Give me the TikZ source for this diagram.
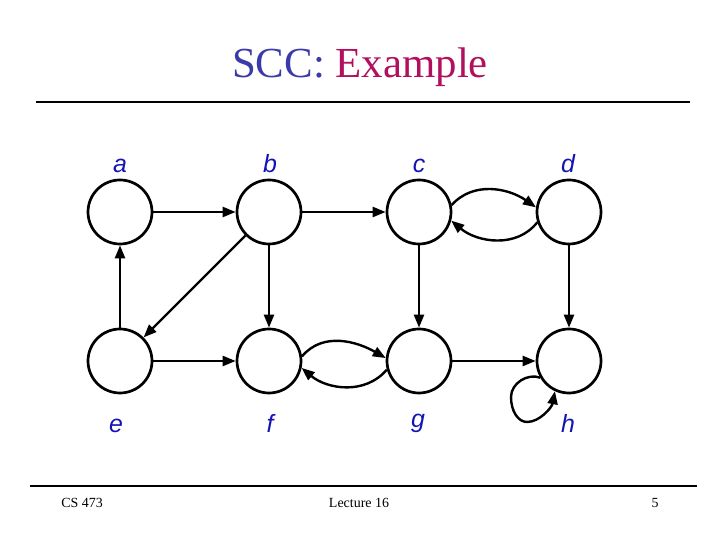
\documentclass[tikz,border=0pt]{standalone}
\usepackage{fontspec}
\setmainfont{Liberation Serif}
\newfontfamily\lblfont{Liberation Sans}
\usetikzlibrary{arrows.meta}
\definecolor{titleblue}{HTML}{3A3AAA}
\definecolor{titlemag}{HTML}{B0105E}
\definecolor{lblblue}{HTML}{1414B4}
\begin{document}
\begin{tikzpicture}[x=1bp,y=1bp,
  vtx/.style={circle,draw,line width=2.7bp,minimum size=64bp,inner sep=0pt},
  edge/.style={line width=2.4bp,-{Triangle[length=13bp,width=10bp]}},
  lbl/.style={anchor=base,text=lblblue,font=\lblfont\itshape\fontsize{25}{25}\selectfont,inner sep=0pt},
  rule/.style={line width=1.2bp},
  foot/.style={anchor=base,font=\fontsize{14}{14}\selectfont,inner sep=0pt}]
\useasboundingbox (0,0) rectangle (720,540);
% title
\node[anchor=base,inner sep=0pt,font=\fontsize{43}{43}\selectfont] (title) at (360,462)
  {\textcolor{titleblue}{SCC:} \textcolor{titlemag}{Example}};
\draw[rule] (36,438) coordinate (tl) -- (690,438) coordinate (tr);
\draw[rule] (30,54) coordinate (bl) -- (697,54) coordinate (br);
\node[foot] (f1) at (82,32) {CS 473};
\node[foot] (f2) at (359,32) {Lecture 16};
\node[foot] (f3) at (655,32) {5};
% vertices
\node[vtx] (a) at (120,328) {};
\node[vtx] (b) at (269,328) {};
\node[vtx] (c) at (419,328) {};
\node[vtx] (d) at (569,328) {};
\node[vtx] (e) at (120,179) {};
\node[vtx] (f) at (269,179) {};
\node[vtx] (g) at (419,179) {};
\node[vtx] (h) at (569,179) {};
% labels
\node[lbl] (la) at (120,367) {a};
\node[lbl] (lb) at (270,367) {b};
\node[lbl] (lc) at (419,367) {c};
\node[lbl] (ld) at (568,367) {d};
\node[lbl] (le) at (116,107) {e};
\node[lbl] (lf) at (270,107) {f};
\node[lbl] (lg) at (418,112) {g};
\node[lbl] (lh) at (568,107) {h};
% edges
\draw[edge] (a) -- (b);
\draw[edge] (b) -- (c);
\draw[edge] (e) -- (a);
\draw[edge] (e) -- (f);
\draw[edge] (g) -- (h);
\draw[edge] (b) -- (f);
\draw[edge] (c) -- (g);
\draw[edge] (d) -- (h);
\draw[edge] (b.-135) -- (e.45);
\draw[edge] (c.12) to[out=48,in=145] (d.172);
\draw[edge] (d.-162) to[out=-128,in=-40] (c.-15);
\draw[edge] (f.8) to[out=50,in=150] (g.175);
\draw[edge] (g.-165) to[out=-130,in=-40] (f.-12);
\draw[edge] (h.210) .. controls (528,167) and (511,157) .. (511,143)
   .. controls (511,129) and (518,118) .. (527,118)
   .. controls (540,118) and (552,133) .. (h.245);
\end{tikzpicture}
\end{document}
